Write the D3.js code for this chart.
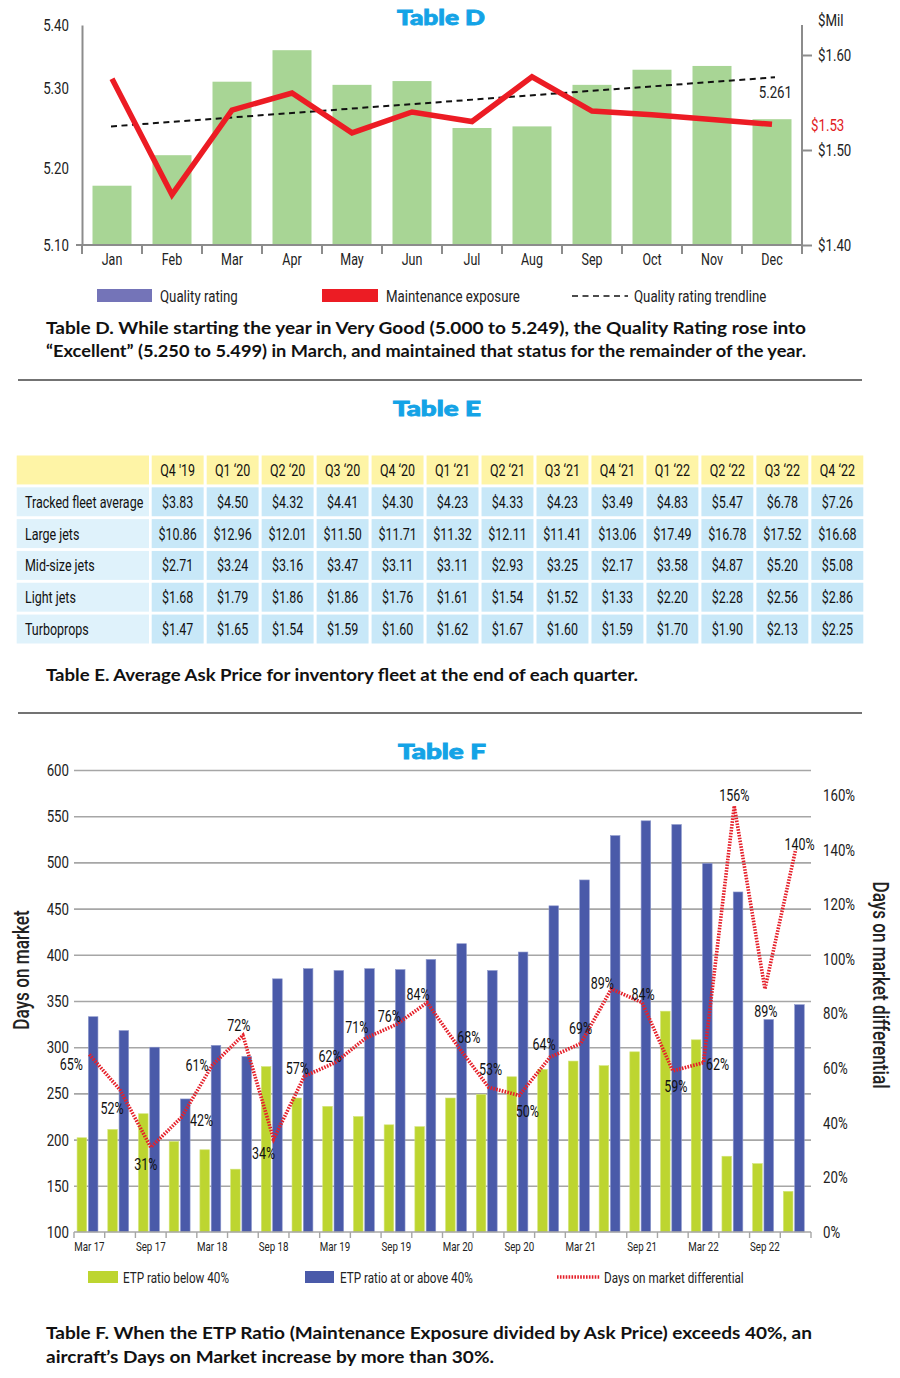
<!DOCTYPE html>
<html><head><meta charset="utf-8">
<script src="https://cdn.jsdelivr.net/npm/d3@7"></script>
<style>
body{margin:0;background:#fff;}
svg{display:block;}
</style></head><body>
<svg id="c" width="900" height="1378"></svg>
<script>
// ================= DATA =================
// Table D
const months = ["Jan","Feb","Mar","Apr","May","Jun","Jul","Aug","Sep","Oct","Nov","Dec"];
const qualityRating = [5.177,5.216,5.310,5.360,5.305,5.311,5.250,5.252,5.305,5.329,5.335,5.261];
const maintenanceExposure = [1.575,1.453,1.542,1.560,1.518,1.540,1.530,1.577,1.541,1.537,1.532,1.527];
const trendEnds = [5.252,5.317];
const qualityTicks = [5.10,5.20,5.30,5.40];
const exposureTicks = [1.40,1.50,1.60];
const decQualityLabel = "5.261";
const decExposureLabel = "$1.53";

// Table E
const quarterHeaders = ["Q4 '19","Q1 ‘20","Q2 ‘20","Q3 ‘20","Q4 ‘20","Q1 ‘21","Q2 ‘21","Q3 ‘21","Q4 ‘21","Q1 ‘22","Q2 ‘22","Q3 ‘22","Q4 ‘22"];
const rowNames = ["Tracked fleet average","Large jets","Mid-size jets","Light jets","Turboprops"];
const trackedFleet = [3.83,4.50,4.32,4.41,4.30,4.23,4.33,4.23,3.49,4.83,5.47,6.78,7.26];
const largeJets = [10.86,12.96,12.01,11.50,11.71,11.32,12.11,11.41,13.06,17.49,16.78,17.52,16.68];
const midJets = [2.71,3.24,3.16,3.47,3.11,3.11,2.93,3.25,2.17,3.58,4.87,5.20,5.08];
const lightJets = [1.68,1.79,1.86,1.86,1.76,1.61,1.54,1.52,1.33,2.20,2.28,2.56,2.86];
const turboprops = [1.47,1.65,1.54,1.59,1.60,1.62,1.67,1.60,1.59,1.70,1.90,2.13,2.25];

// Table F
const fQuarters = ["Mar 17","Jun 17","Sep 17","Dec 17","Mar 18","Jun 18","Sep 18","Dec 18","Mar 19","Jun 19","Sep 19","Dec 19",
                   "Mar 20","Jun 20","Sep 20","Dec 20","Mar 21","Jun 21","Sep 21","Dec 21","Mar 22","Jun 22","Sep 22","Dec 22"];
const etpBelow = [202,211,228,198,189,168,279,245,236,225,216,214,245,249,268,276,285,280,295,339,308,182,174,144];
const etpAbove = [333,318,300,244,302,290,374,385,383,385,384,395,412,383,403,453,481,529,545,541,499,468,330,346];
const domDiff = [65,52,31,42,61,72,34,57,62,71,76,84,68,53,50,64,69,89,84,59,62,156,89,140];
const daysTicks = [100,150,200,250,300,350,400,450,500,550,600];
const diffTicks = [0,20,40,60,80,100,120,140,160];

// ================= LAYOUT (not data) =================
const diffLabelOffsets = [[-18,10],[-8,18],[-5,17],[20,3],[-15,0],[-4,-10],[-10,14],[-7,-8],[-5,-7],[-9,-11],[-7,-8],[-9,-9],
                          [11,-9],[2,-18],[8,16],[-6,-13],[0,-16],[-9,-6],[1,-9],[3,15],[14,1],[0,-11],[1,22],[4,-6]];

const NARROW = "Roboto,'Liberation Sans',sans-serif";
const CAP = "Lato,'Open Sans',sans-serif";
const TITLE_BLUE = "#14a3e6";
const AXIS_GRAY = "#8c8c8c";
const CONDENSE = 0.78;

const svg = d3.select("#c");

function title(text, cx, y){
  svg.append("text").attr("x",cx).attr("y",y).attr("text-anchor","middle")
    .attr("font-family",CAP).attr("font-weight",900).attr("font-size",21)
    .attr("fill",TITLE_BLUE).attr("stroke",TITLE_BLUE).attr("stroke-width",0.9)
    .attr("textLength",88).attr("lengthAdjust","spacingAndGlyphs").text(text);
}
function caption(text, x, y, len){
  svg.append("text").attr("x",x).attr("y",y).attr("font-family",CAP).attr("font-weight",700)
    .attr("font-size",17).attr("fill","#111")
    .attr("textLength",len).attr("lengthAdjust","spacingAndGlyphs").text(text);
}
function rule(y){
  svg.append("line").attr("x1",18).attr("x2",862).attr("y1",y).attr("y2",y)
    .attr("stroke","#444").attr("stroke-width",1.5);
}

// ================= TABLE D =================
title("Table D", 441, 25);
const xD = d3.scaleBand().domain(months).range([82,802]).paddingInner(0.35).paddingOuter(0.175);
const yD = d3.scaleLinear().domain(qualityTicks).range([245,168,88,25]);
const yDR = d3.scaleLinear().domain([1.40,1.60]).range([245,55]);

const gD = svg.append("g");
gD.selectAll("rect.bar").data(qualityRating).join("rect")
  .attr("x",(d,i)=>xD(months[i])).attr("width",xD.bandwidth())
  .attr("y",d=>yD(d)).attr("height",d=>yD(5.10)-yD(d))
  .attr("fill","#a8d595");

// axes
const axL = gD.append("g").attr("transform","translate(82,0)")
  .call(d3.axisLeft(yD).tickValues(qualityTicks).tickFormat(d3.format(".2f")).tickSize(0).tickPadding(13));
axL.select(".domain").attr("stroke",AXIS_GRAY).attr("stroke-width",2);
axL.selectAll("text").attr("class","n").attr("font-family",NARROW).attr("font-size",17).attr("fill","#222");

const axR = gD.append("g").attr("transform","translate(802,0)")
  .call(d3.axisRight(yDR).tickValues(exposureTicks).tickFormat(d=>"$"+d3.format(".2f")(d)).tickSizeInner(10).tickSizeOuter(0).tickPadding(6));
axR.select(".domain").attr("stroke",AXIS_GRAY).attr("stroke-width",2).attr("d","M0,25V245");
axR.selectAll(".tick line").attr("stroke",AXIS_GRAY).attr("stroke-width",2);
axR.selectAll("text").attr("class","n").attr("font-family",NARROW).attr("font-size",17).attr("fill","#222");
gD.append("text").attr("class","n").attr("x",818).attr("y",26).attr("font-family",NARROW).attr("font-size",17).attr("fill","#222").text("$Mil");

const axB = gD.append("g").attr("transform","translate(0,245)")
  .call(d3.axisBottom(xD).tickSize(0).tickPadding(9));
axB.select(".domain").remove();
axB.selectAll("text").attr("class","n").attr("font-family",NARROW).attr("font-size",16).attr("fill","#222");
gD.append("line").attr("x1",76).attr("x2",802).attr("y1",245).attr("y2",245).attr("stroke",AXIS_GRAY).attr("stroke-width",2);
gD.selectAll("line.bt").data(d3.range(months.length+1)).join("line").attr("class","bt")
  .attr("x1",i=>82+i*xD.step()).attr("x2",i=>82+i*xD.step()).attr("y1",245).attr("y2",254)
  .attr("stroke",AXIS_GRAY).attr("stroke-width",2);

// trendline
const cx = m => xD(m)+xD.bandwidth()/2;
gD.append("line").attr("x1",cx(months[0])-1).attr("y1",yD(trendEnds[0]))
  .attr("x2",cx(months[11])+3).attr("y2",yD(trendEnds[1]))
  .attr("stroke","#111").attr("stroke-width",2).attr("stroke-dasharray","6,4.5");
// maintenance line
gD.append("path").datum(maintenanceExposure)
  .attr("d",d3.line().x((d,i)=>cx(months[i])).y(d=>yDR(d)))
  .attr("fill","none").attr("stroke","#ec1c24").attr("stroke-width",5.5).attr("stroke-linejoin","miter");
gD.append("text").attr("class","n").attr("x",792).attr("y",98).attr("text-anchor","end")
  .attr("font-family",NARROW).attr("font-size",17).attr("fill","#222").text(decQualityLabel);
gD.append("text").attr("class","n").attr("x",811).attr("y",131)
  .attr("font-family",NARROW).attr("font-size",17).attr("fill","#e11b22").text(decExposureLabel);

// legend D
const legD = svg.append("g").attr("font-family",NARROW).attr("font-size",17).attr("fill","#222");
legD.append("rect").attr("x",97).attr("y",289).attr("width",55).attr("height",13).attr("fill","#7474b8");
legD.append("text").attr("class","n").attr("x",160).attr("y",302).text("Quality rating");
legD.append("rect").attr("x",322).attr("y",289).attr("width",56).attr("height",13).attr("fill","#ec1c24");
legD.append("text").attr("class","n").attr("x",386).attr("y",302).text("Maintenance exposure");
legD.append("line").attr("x1",572).attr("x2",628).attr("y1",296).attr("y2",296)
  .attr("stroke","#111").attr("stroke-width",1.6).attr("stroke-dasharray","6,4.5");
legD.append("text").attr("class","n").attr("x",634).attr("y",302).text("Quality rating trendline");

caption("Table D. While starting the year in Very Good (5.000 to 5.249), the Quality Rating rose into",46,334,760);
caption("“Excellent” (5.250 to 5.499) in March, and maintained that status for the remainder of the year.",46,357,760);
rule(380);

// ================= TABLE E =================
title("Table E", 437, 416);
const tableRows = [trackedFleet, largeJets, midJets, lightJets, turboprops];
const rowsY = d3.scaleBand().domain(["header",...rowNames]).range([455.5,643.5]).paddingInner(0.09);
const colsX = d3.scaleBand().domain(quarterHeaders).range([151.7,863.3]).paddingInner(0.055);
const gE = svg.append("g").attr("font-family",NARROW).attr("font-size",16).attr("fill","#111");
// header
gE.append("rect").attr("x",16.7).attr("y",rowsY("header")).attr("width",132.3).attr("height",rowsY.bandwidth()).attr("fill","#fef4a6");
gE.selectAll("rect.h").data(quarterHeaders).join("rect").attr("class","h")
  .attr("x",d=>colsX(d)).attr("y",rowsY("header")).attr("width",colsX.bandwidth()).attr("height",rowsY.bandwidth()).attr("fill","#fef4a6");
gE.selectAll("text.h").data(quarterHeaders).join("text").attr("class","n")
  .attr("x",d=>colsX(d)+colsX.bandwidth()/2).attr("y",rowsY("header")+rowsY.bandwidth()/2+6)
  .attr("text-anchor","middle").text(d=>d);
rowNames.forEach((name,r)=>{
  const y0 = rowsY(name);
  gE.append("rect").attr("x",16.7).attr("y",y0).attr("width",132.3).attr("height",rowsY.bandwidth()).attr("fill","#dff2fb");
  gE.append("text").attr("class","n").attr("x",25).attr("y",y0+rowsY.bandwidth()/2+6).text(name);
  const g = gE.append("g");
  g.selectAll("rect").data(tableRows[r]).join("rect")
    .attr("x",(d,i)=>colsX(quarterHeaders[i])).attr("y",y0).attr("width",colsX.bandwidth()).attr("height",rowsY.bandwidth()).attr("fill","#c8e8f8");
  g.selectAll("text").data(tableRows[r]).join("text").attr("class","n")
    .attr("x",(d,i)=>colsX(quarterHeaders[i])+colsX.bandwidth()/2).attr("y",y0+rowsY.bandwidth()/2+6)
    .attr("text-anchor","middle").text(d=>"$"+d3.format(".2f")(d));
});
caption("Table E. Average Ask Price for inventory fleet at the end of each quarter.",46,681,592);
rule(713);

// ================= TABLE F =================
title("Table F", 442, 759);
const xF = d3.scaleBand().domain(fQuarters).range([74,811]);
const xFin = d3.scaleBand().domain(["below","above"]).range([xF.bandwidth()*0.1,xF.bandwidth()*0.78]).paddingInner(0.15);
const yF = d3.scaleLinear().domain([100,600]).range([1232,770]);
const yFR = d3.scaleLinear().domain([0,160]).range([1232,795]);
const gF = svg.append("g");

// gridlines + left labels
const axFL = gF.append("g").attr("transform","translate(74,0)")
  .call(d3.axisLeft(yF).tickValues(daysTicks).tickSize(-(811-74)).tickPadding(5));
axFL.select(".domain").remove();
axFL.selectAll(".tick line").attr("stroke","#a6a6a6").attr("stroke-width",1.6)
  .attr("display",d=>d===100?"none":null);
axFL.selectAll("text").attr("class","n").attr("font-family",NARROW).attr("font-size",17).attr("fill","#222");

const axFR = gF.append("g").attr("transform","translate(811,0)")
  .call(d3.axisRight(yFR).tickValues(diffTicks).tickFormat(d=>d+"%").tickSize(0).tickPadding(12));
axFR.select(".domain").remove();
axFR.selectAll("text").attr("class","n").attr("font-family",NARROW).attr("font-size",17).attr("fill","#222");

// bars
const groups = gF.selectAll("g.grp").data(fQuarters).join("g").attr("class","grp")
  .attr("transform",d=>`translate(${xF(d)},0)`);
groups.append("rect").attr("x",xFin("below")).attr("width",xFin.bandwidth())
  .attr("y",(d,i)=>yF(etpBelow[i])).attr("height",(d,i)=>yF(100)-yF(etpBelow[i]))
  .attr("fill","#bdd530").attr("stroke","#d3e47a").attr("stroke-width",0.6);
groups.append("rect").attr("x",xFin("above")).attr("width",xFin.bandwidth())
  .attr("y",(d,i)=>yF(etpAbove[i])).attr("height",(d,i)=>yF(100)-yF(etpAbove[i]))
  .attr("fill","#4a5aa9").attr("stroke","#8e99cc").attr("stroke-width",0.6);

// bottom axis
const axFB = gF.append("g").attr("transform","translate(0,1232)")
  .call(d3.axisBottom(xF).tickSize(0).tickPadding(10).tickFormat((d,i)=>i%2===0?d:""));
axFB.select(".domain").remove();
axFB.selectAll("text").attr("class","n").attr("font-family",NARROW).attr("font-size",12.5).attr("fill","#222");
gF.append("line").attr("x1",74).attr("x2",811).attr("y1",1232).attr("y2",1232).attr("stroke","#a6a6a6").attr("stroke-width",1.6);
gF.selectAll("line.bt").data(d3.range(fQuarters.length+1)).join("line").attr("class","bt")
  .attr("x1",i=>74+i*xF.step()).attr("x2",i=>74+i*xF.step()).attr("y1",1232).attr("y2",1238)
  .attr("stroke","#a6a6a6").attr("stroke-width",1.4);

// differential line
const fcx = q => xF(q)+xF.bandwidth()/2;
gF.append("path").datum(domDiff)
  .attr("d",d3.line().x((d,i)=>fcx(fQuarters[i])).y(d=>yFR(d)))
  .attr("fill","none").attr("stroke","#e5202a").attr("stroke-width",3.6).attr("stroke-dasharray","1.6,1.3");
gF.selectAll("text.dl").data(domDiff).join("text").attr("class","n")
  .attr("x",(d,i)=>fcx(fQuarters[i])+diffLabelOffsets[i][0])
  .attr("y",(d,i)=>yFR(d)+diffLabelOffsets[i][1]+6)
  .attr("text-anchor","middle").attr("font-family",NARROW).attr("font-size",16).attr("fill","#111")
  .text(d=>d+"%");

// axis titles
gF.append("text").attr("class","n").attr("transform","translate(29,970) rotate(-90)").attr("text-anchor","middle")
  .attr("font-family",NARROW).attr("font-weight",500).attr("font-size",22).attr("fill","#222").text("Days on market");
gF.append("text").attr("class","n").attr("transform","translate(873,985) rotate(90)").attr("text-anchor","middle")
  .attr("font-family",NARROW).attr("font-weight",500).attr("font-size",22).attr("fill","#222").text("Days on market differential");

// legend F
const legF = svg.append("g").attr("font-family",NARROW).attr("font-size",15).attr("fill","#222");
legF.append("rect").attr("x",88).attr("y",1271).attr("width",30).attr("height",12).attr("fill","#bdd530");
legF.append("text").attr("class","n").attr("x",123).attr("y",1283).text("ETP ratio below 40%");
legF.append("rect").attr("x",305).attr("y",1271).attr("width",29).attr("height",12).attr("fill","#4a5aa9");
legF.append("text").attr("class","n").attr("x",340).attr("y",1283).text("ETP ratio at or above 40%");
legF.append("line").attr("x1",557).attr("x2",600).attr("y1",1277).attr("y2",1277)
  .attr("stroke","#e5202a").attr("stroke-width",3.6).attr("stroke-dasharray","1.6,1.3");
legF.append("text").attr("class","n").attr("x",604).attr("y",1283).text("Days on market differential");

caption("Table F. When the ETP Ratio (Maintenance Exposure divided by Ask Price) exceeds 40%, an",46,1339,766);
caption("aircraft’s Days on Market increase by more than 30%.",46,1363,448);

// condense narrow texts horizontally about their anchor x (reference uses a condensed face)
svg.selectAll("text.n").each(function(){
  const sel = d3.select(this);
  const x = +(sel.attr("x") || 0);
  const prev = sel.attr("transform") || "";
  sel.attr("transform", `${prev} translate(${x},0) scale(${CONDENSE},1) translate(${-x},0)`.trim());
});
</script>
</body></html>
